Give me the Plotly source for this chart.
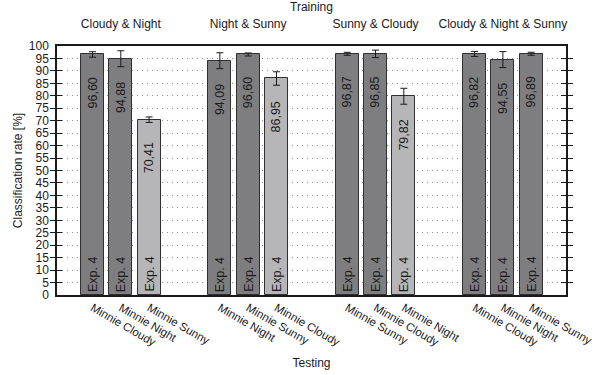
import plotly.graph_objects as go

# Training configurations (one group of bars each)
training_sets = ["Cloudy & Night", "Night & Sunny", "Sunny & Cloudy", "Cloudy & Night & Sunny"]

# Test set for every bar, in plotting order
test_sets = [
    "Minnie Cloudy", "Minnie Night", "Minnie Sunny",
    "Minnie Night", "Minnie Sunny", "Minnie Cloudy",
    "Minnie Sunny", "Minnie Cloudy", "Minnie Night",
    "Minnie Cloudy", "Minnie Night", "Minnie Sunny",
]

# Mean classification rate [%] and its spread
rates = [96.60, 94.88, 70.41, 94.09, 96.60, 86.95, 96.87, 96.85, 79.82, 96.82, 94.55, 96.89]
errors = [1.1, 3.2, 1.1, 3.2, 0.6, 2.7, 0.6, 1.5, 3.2, 1.0, 3.2, 0.6]

# Whether the test set was part of the training data
seen = [True, True, False, True, True, False, True, True, False, True, True, True]

exp_label = "Exp. 4"

BARS_PER_GROUP = 3
GROUP_STEP = 4.5
DARK = "#7e7e81"
LIGHT = "#b6b6b9"
FONT = "Liberation Sans, Arial, sans-serif"
TEXT = "#1a1a1a"

xs = [g * GROUP_STEP + j for g in range(len(training_sets)) for j in range(BARS_PER_GROUP)]
group_centers = [g * GROUP_STEP + 1 for g in range(len(training_sets))]
x_range = [-1.255, 16.73]


def fmt(v):
    return f"{v:.2f}".replace(".", ",")


fig = go.Figure()
fig.add_trace(go.Bar(
    x=xs,
    y=rates,
    width=0.81,
    marker=dict(color=[DARK if s else LIGHT for s in seen],
                line=dict(color="#303030", width=1)),
    error_y=dict(type="data", array=errors, color="#1a1a1a", thickness=1, width=3.5),
    showlegend=False,
    hoverinfo="skip",
))

# hidden trace that carries the top (training) axis
fig.add_trace(go.Scatter(x=group_centers, y=[None] * len(group_centers), xaxis="x2",
                         mode="markers", showlegend=False, hoverinfo="skip"))

annotations = []
for x, r in zip(xs, rates):
    annotations.append(dict(
        x=x, y=r, xref="x", yref="y", text=fmt(r), showarrow=False,
        textangle=-90, yanchor="top", xanchor="center", yshift=-21,
        font=dict(family=FONT, size=12.5, color=TEXT),
    ))
    annotations.append(dict(
        x=x, y=0, xref="x", yref="y", text=exp_label, showarrow=False,
        textangle=-90, yanchor="bottom", xanchor="center", yshift=1,
        font=dict(family=FONT, size=12.5, color=TEXT),
    ))

fig.update_layout(
    width=594, height=375,
    margin=dict(l=57, r=28, t=46, b=80, autoexpand=False),
    paper_bgcolor="white",
    plot_bgcolor="white",
    font=dict(family=FONT, size=12, color=TEXT),
    bargap=0,
    annotations=annotations,
    xaxis=dict(
        range=x_range, automargin=False,
        tickmode="array", tickvals=xs, ticktext=test_sets,
        tickangle=30, ticks="", ticklabelstandoff=0, ticklabeloverflow="allow",
        showgrid=False, zeroline=False,
        showline=True, linecolor="#1a1a1a", linewidth=2, mirror=True,
        title=dict(text="Testing", standoff=11, font=dict(size=12)),
        tickfont=dict(size=11.5),
    ),
    xaxis2=dict(
        overlaying="x", side="top", range=x_range, automargin=False,
        tickmode="array", tickvals=group_centers, ticktext=training_sets,
        ticks="", ticklabelstandoff=15, ticklabeloverflow="allow",
        showgrid=False, zeroline=False, showline=False,
        title=dict(text="Training", standoff=2, font=dict(size=12)),
        tickfont=dict(size=12),
    ),
    yaxis=dict(
        range=[0, 100], tickmode="linear", tick0=0, dtick=5, automargin=False,
        ticks="inside", ticklen=5, tickwidth=1, tickcolor="#1a1a1a",
        mirror="allticks", showline=True, linecolor="#1a1a1a", linewidth=1.5,
        showgrid=True, gridcolor="#8a8a8a", gridwidth=1, griddash="1px,4px",
        zeroline=False, ticklabelstandoff=4,
        title=dict(text="Classification rate [%]", standoff=4, font=dict(size=12)),
        tickfont=dict(size=12),
    ),
)

fig.write_html("out.html")
